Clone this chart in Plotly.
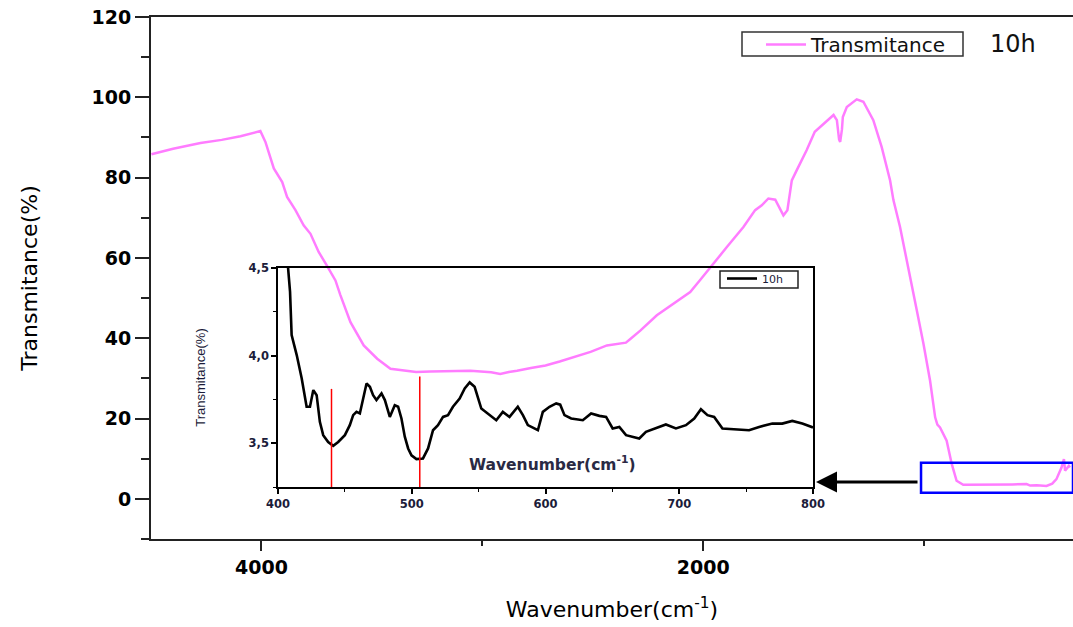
import plotly.graph_objects as go

# Main FTIR spectrum (10h)
main_wn = [4498, 4400, 4276, 4180, 4095, 4005, 3982, 3944, 3906, 3884,
           3846, 3809, 3778, 3741, 3703, 3665, 3643, 3597, 3537, 3476,
           3416, 3356, 3300, 3235, 3150, 3054, 2960, 2919, 2880, 2843,
           2780, 2714, 2650, 2587, 2510, 2436, 2376, 2350, 2330, 2285,
           2210, 2134, 2059, 2014, 1968, 1893, 1818, 1765, 1735, 1705,
           1674, 1652, 1637, 1619, 1599, 1577, 1532, 1495, 1471, 1441,
           1410, 1395, 1385, 1380, 1372, 1368, 1350, 1305, 1275, 1230,
           1192, 1154, 1139, 1109, 1093, 1063, 1033, 1003, 973, 950,
           940, 928, 898, 875, 853, 823, 750, 687, 600, 536,
           520, 490, 446, 420, 401, 378, 367, 362, 355, 345, 340]
main_T = [85.8, 87.2, 88.6, 89.4, 90.3, 91.6, 88.9, 82.3, 78.9, 75.2,
          71.9, 68.1, 66.0, 61.5, 58.0, 54.4, 50.8, 44.0, 38.2, 34.9,
          32.4, 31.9, 31.6, 31.7, 31.8, 31.9, 31.5, 31.1, 31.6, 31.9,
          32.6, 33.2, 34.2, 35.3, 36.6, 38.2, 38.8, 38.9, 39.8, 41.9,
          45.7, 48.6, 51.5, 54.5, 57.7, 62.7, 67.7, 71.9, 73.1, 74.8,
          74.5, 72.3, 70.6, 71.9, 79.3, 81.8, 86.8, 91.4, 92.6, 93.9,
          95.6, 94.3, 89.5, 88.9, 92.0, 95.1, 97.6, 99.5, 98.9, 94.3,
          87.6, 79.3, 74.4, 67.7, 63.5, 55.2, 46.9, 38.6, 29.4, 20.3,
          18.5, 17.8, 14.5, 8.7, 4.5, 3.5, 3.5, 3.5, 3.6, 3.7,
          3.3, 3.4, 3.2, 3.8, 4.9, 7.8, 9.9, 7.0, 7.5, 8.2, 7.8]

# Inset zoom (400-800 cm-1)
ins_wn = [407, 409, 410.2, 414, 417.7, 421.4, 423.9, 426.4, 428.9, 431.3,
          433.8, 437.5, 441.3, 445, 450, 453.7, 456.2, 458.7, 461.2, 463.7,
          466.2, 468.7, 471.1, 473.6, 477.4, 479.9, 483.6, 487.3, 489.8, 492.3,
          494.8, 497.3, 499.8, 503.5, 508.4, 512.2, 515.9, 519.6, 523.4, 527.1,
          530.8, 535.8, 539.6, 543.3, 547, 552, 557, 563.2, 568.1, 573.1,
          579.3, 583.1, 586.8, 594.3, 598, 603, 608, 611, 614.2, 619.2,
          627.9, 634.1, 640.3, 645.3, 650.2, 655.2, 660.2, 670.1, 675.1, 682.6,
          690, 697.5, 705, 711.2, 716.2, 721.1, 726.1, 732.3, 739.8, 752.2,
          759.7, 769.6, 777, 784.5, 792, 798.3, 800]
ins_T = [4.55, 4.365, 4.117, 4.003, 3.871, 3.708, 3.708, 3.803, 3.774, 3.622,
         3.546, 3.507, 3.485, 3.507, 3.546, 3.603, 3.66, 3.679, 3.67, 3.755,
         3.841, 3.822, 3.774, 3.746, 3.784, 3.746, 3.65, 3.717, 3.708, 3.641,
         3.537, 3.47, 3.431, 3.409, 3.413, 3.47, 3.574, 3.603, 3.65, 3.66,
         3.708, 3.755, 3.813, 3.847, 3.822, 3.698, 3.67, 3.631, 3.679, 3.65,
         3.708, 3.66, 3.603, 3.574, 3.679, 3.708, 3.727, 3.72, 3.66, 3.641,
         3.631, 3.67, 3.656, 3.65, 3.584, 3.593, 3.546, 3.527, 3.565, 3.584,
         3.607, 3.584, 3.603, 3.641, 3.694, 3.66, 3.65, 3.584, 3.58, 3.574,
         3.593, 3.612, 3.612, 3.627, 3.612, 3.593, 3.59]

# Marked bands in inset (cm-1) and their marker tops
band_wn = [440, 506]
band_top = [3.81, 3.88]

ins_ytick_vals = [3.5, 4.0, 4.5]
ins_ytick_text = ["3,5", "4,0", "4,5"]

# zoom box on main plot (data coords)
box_x = [1014, 326]
box_y = [1.5, 9.0]

PINK = "#ff7cff"
FONT = "DejaVu Sans"
AXC = "#222222"

# plot-area geometry (pixels) used to place paper-referenced decorations
L, T, W, H = 151, 17, 922, 522


def px(x):
    return (x - L) / W


def py(y):
    return (T + H - y) / H


fig = go.Figure()
fig.add_trace(go.Scatter(x=main_wn, y=main_T, mode="lines", name="Transmitance",
                         line=dict(color=PINK, width=2.5), legend="legend",
                         xaxis="x", yaxis="y"))
fig.add_trace(go.Scatter(x=ins_wn, y=ins_T, mode="lines", name="10h",
                         line=dict(color="black", width=2.6), legend="legend2",
                         xaxis="x2", yaxis="y2"))

shapes = [dict(type="rect", xref="x", yref="y", x0=box_x[0], x1=box_x[1],
               y0=box_y[0], y1=box_y[1], line=dict(color="#0000ff", width=2.5))]
for bx, bt in zip(band_wn, band_top):
    shapes.append(dict(type="line", xref="x2", yref="y2", x0=bx, x1=bx,
                       y0=3.25, y1=bt, line=dict(color="#ff0000", width=1.5)))
# legend frames
shapes.append(dict(type="rect", xref="paper", yref="paper",
                   x0=px(742), x1=px(963), y0=py(56), y1=py(32),
                   line=dict(color="#333333", width=1.5)))
shapes.append(dict(type="rect", xref="paper", yref="paper",
                   x0=px(720), x1=px(798), y0=py(288), y1=py(271),
                   line=dict(color="#222222", width=1.5)))

annotations = [
    dict(text="10h", xref="paper", yref="paper", x=px(1013), y=py(44),
         xanchor="center", yanchor="middle",
         showarrow=False, font=dict(family=FONT, size=24, color="#111111")),
    dict(text="<b>Wavenumber(cm<sup>-1</sup>)</b>", xref="paper", yref="paper",
         x=px(552), y=py(463), xanchor="center", yanchor="middle", showarrow=False,
         font=dict(family=FONT, size=15.5, color="#2a2a44")),
    dict(text=" ", xref="paper", yref="paper", x=px(816), y=py(482),
         ax=105, ay=0, showarrow=True, arrowhead=2, arrowsize=1.4,
         arrowwidth=3, arrowcolor="black"),
]

fig.update_layout(
    width=1073, height=627,
    margin=dict(l=L, r=1073 - L - W, t=T, b=627 - T - H),
    paper_bgcolor="white", plot_bgcolor="rgba(0,0,0,0)",
    shapes=shapes, annotations=annotations,
    font=dict(family=FONT, color="black"),
    xaxis=dict(range=[4500, 326], tickmode="linear", tick0=0, dtick=2000,
               ticks="outside", ticklen=10, tickwidth=2, tickcolor=AXC,
               minor=dict(dtick=1000, ticklen=5, tickwidth=1.5, ticks="outside", tickcolor=AXC),
               showline=True, linewidth=2, linecolor=AXC, mirror=True,
               showgrid=False, zeroline=False, automargin=False,
               tickfont=dict(family=FONT, size=19, weight="bold"),
               title=dict(text="Wavenumber(cm<sup>-1</sup>)", standoff=25,
                          font=dict(family=FONT, size=22))),
    yaxis=dict(range=[-10, 120], tickmode="linear", tick0=0, dtick=20,
               ticks="outside", ticklen=14, tickwidth=2, tickcolor=AXC,
               minor=dict(dtick=10, ticklen=8, tickwidth=1.5, ticks="outside", tickcolor=AXC),
               showline=True, linewidth=2, linecolor=AXC, mirror=False,
               showgrid=False, zeroline=False, automargin=False,
               tickfont=dict(family=FONT, size=19, weight="bold"),
               title=dict(text="Transmitance(%)", standoff=48,
                          font=dict(family=FONT, size=22))),
    xaxis2=dict(domain=[px(278), px(813)], anchor="y2", range=[400, 800],
                tickmode="linear", tick0=400, dtick=100,
                ticks="outside", ticklen=5, tickwidth=1.5, tickcolor="black",
                minor=dict(dtick=50, ticklen=3, tickwidth=1, ticks="outside", tickcolor="black"),
                showline=True, linewidth=1.5, linecolor="black", mirror=True,
                showgrid=False, zeroline=False, automargin=False,
                tickfont=dict(family=FONT, size=11.5, weight="bold", color="#1c1c3a")),
    yaxis2=dict(domain=[py(487), py(268)], anchor="x2", range=[3.25, 4.5],
                tickmode="array", tickvals=ins_ytick_vals, ticktext=ins_ytick_text,
                ticks="outside", ticklen=5, tickwidth=1.5, tickcolor="black",
                minor=dict(tickmode="array", tickvals=[3.25, 3.75, 4.25], ticklen=3,
                           tickwidth=1, ticks="outside", tickcolor="black"),
                showline=True, linewidth=1.5, linecolor="black", mirror=True,
                showgrid=False, zeroline=False, automargin=False,
                tickfont=dict(family=FONT, size=11.5, weight="bold", color="#1c1c3a"),
                title=dict(text="Transmitance(%)", standoff=40,
                           font=dict(family="Liberation Sans", size=13, color="#1c1c3a"))),
    legend=dict(x=px(761), y=py(25), xanchor="left", yanchor="top",
                bgcolor="rgba(0,0,0,0)", borderwidth=0,
                font=dict(family=FONT, size=20, color="#111111"),
                itemwidth=40, tracegroupgap=0),
    legend2=dict(x=px(722), y=py(264), xanchor="left", yanchor="top",
                 bgcolor="rgba(0,0,0,0)", borderwidth=0,
                 font=dict(family=FONT, size=11, color="#1c1c3a"),
                 itemwidth=30, tracegroupgap=0),
    showlegend=True,
)

fig.write_html("out.html")
